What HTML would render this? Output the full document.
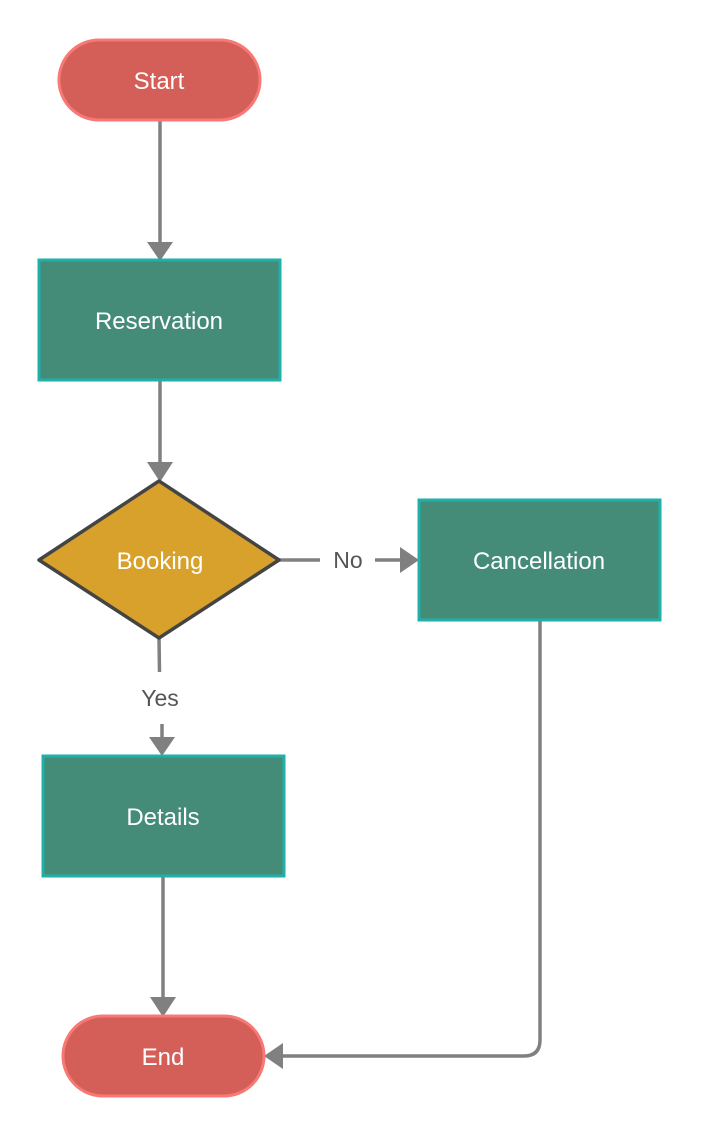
<!DOCTYPE html>
<html><head><meta charset="utf-8"><style>
html,body{margin:0;padding:0;background:#fff;}
svg{display:block;}
text{font-family:"Liberation Sans",sans-serif;}
</style></head><body>
<svg width="701" height="1136" viewBox="0 0 701 1136" xmlns="http://www.w3.org/2000/svg">
<g stroke="#808080" stroke-width="3.5" fill="none">
<line x1="160" y1="120" x2="160" y2="244"/>
<line x1="160" y1="380" x2="160" y2="465"/>
<line x1="279" y1="560" x2="320" y2="560"/>
<line x1="375" y1="560" x2="402" y2="560"/>
<line x1="159" y1="638" x2="159.5" y2="672"/>
<line x1="162" y1="724" x2="162" y2="740"/>
<line x1="163" y1="876" x2="163" y2="1000"/>
<path d="M540 620 V1040 Q540 1056 524 1056 H280"/>
</g>
<g fill="#808080">
<polygon points="147,242 173,242 160,261"/>
<polygon points="147,462 173,462 160,482"/>
<polygon points="400,547 400,573 419,560"/>
<polygon points="149,737 175,737 162,756"/>
<polygon points="150,997 176,997 163,1017"/>
<polygon points="283,1043 283,1069 264,1056"/>
</g>
<rect x="59" y="40" width="201" height="80" rx="40" fill="#d35f58" stroke="#f77874" stroke-width="3"/>
<rect x="63" y="1016" width="201" height="80" rx="40" fill="#d35f58" stroke="#f77874" stroke-width="3"/>
<rect x="39" y="260" width="241" height="120" fill="#448c78" stroke="#21b0a9" stroke-width="3"/>
<rect x="419" y="500" width="241" height="120" fill="#448c78" stroke="#21b0a9" stroke-width="3"/>
<rect x="43" y="756" width="241" height="120" fill="#448c78" stroke="#21b0a9" stroke-width="3"/>
<polygon points="159,481 279,560 159,638 39,560" fill="#d8a12b" stroke="#444" stroke-width="3.5" stroke-linejoin="round"/>
<g fill="#fff" font-size="24" text-anchor="middle">
<text x="159" y="89">Start</text>
<text x="159" y="329">Reservation</text>
<text x="160" y="569">Booking</text>
<text x="539" y="569">Cancellation</text>
<text x="163" y="825">Details</text>
<text x="163" y="1065">End</text>
</g>
<g fill="#555" font-size="23" text-anchor="middle">
<text x="348" y="568">No</text>
<text x="160" y="706">Yes</text>
</g>
</svg>
</body></html>
